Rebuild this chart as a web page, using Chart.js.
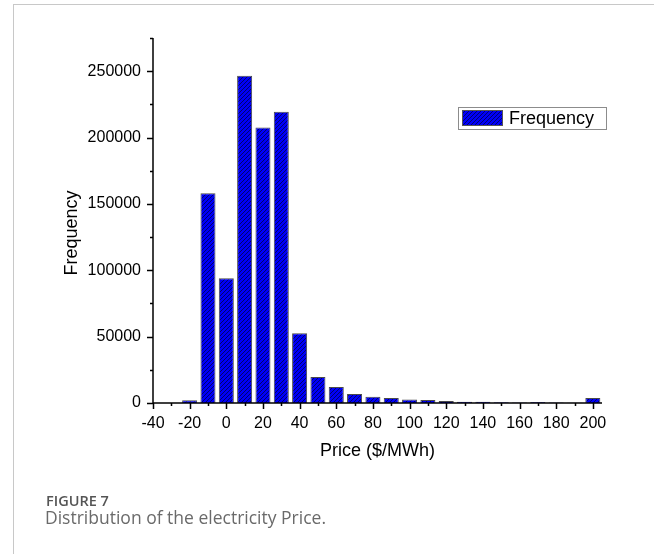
<!DOCTYPE html>
<html>
<head>
<meta charset="utf-8">
<script src="https://cdn.jsdelivr.net/npm/chart.js@4.4.1/dist/chart.umd.min.js"></script>
<style>
  html, body { margin: 0; padding: 0; background: #fff; }
  #wrap { position: relative; width: 654px; height: 554px; overflow: hidden; }
  #frame { position: absolute; left: 13px; top: 4px; width: 700px; height: 600px;
           border-left: 1px solid #c8c8c8; border-top: 1px solid #c8c8c8; }
  #chart { position: absolute; left: 0; top: 0; }
  .cap1 { position: absolute; left: 46px; top: 491px; font: 600 14.5px "Open Sans", sans-serif; color: #555; }
  .cap2 { position: absolute; left: 45px; top: 505px; font: 17.5px "Open Sans", sans-serif; color: #6a6a6a; }
</style>
</head>
<body>
<div id="wrap">
  <div id="frame"></div>
  <canvas id="chart" width="654" height="554"></canvas>
  <div class="cap1">FIGURE 7</div>
  <div class="cap2">Distribution of the electricity Price.</div>
</div>
<script>
// histogram bins (price centre, $/MWh) and counts
const binCenters = [-20, -10, 0, 10, 20, 30, 40, 50, 60, 70, 80, 90, 100,
                    110, 120, 130, 140, 150, 160, 170, 180, 190, 200];
const frequency = [2000, 158000, 94000, 246500, 207500, 219500, 52500, 19500, 12000, 6800, 4700, 3700, 2600,
                   2200, 1500, 1000, 1000, 600, 400, 700, 400, 200, 3700];
const xRange = [-40, 205];
const yRange = [0, 275000];
const xTickValues = [-40, -30, -20, -10, 0, 10, 20, 30, 40, 50, 60, 70, 80, 90, 100,
                     110, 120, 130, 140, 150, 160, 170, 180, 190, 200];
const yTickValues = [0, 25000, 50000, 75000, 100000, 125000, 150000, 175000, 200000,
                     225000, 250000, 275000];
const seriesLabel = 'Frequency';
const xTitle = 'Price ($/MWh)';
const yTitle = 'Frequency';

const FONT = '"Liberation Sans", Arial, sans-serif';

// blue fill with dark diagonal hatching, like the Origin pattern
function hatch() {
  const c = document.createElement('canvas');
  c.width = 4; c.height = 4;
  const g = c.getContext('2d');
  g.fillStyle = '#0000f8';
  g.fillRect(0, 0, 4, 4);
  g.strokeStyle = '#000070';
  g.lineWidth = 1;
  g.beginPath();
  g.moveTo(0, 4); g.lineTo(4, 0);
  g.moveTo(-1, 1); g.lineTo(1, -1);
  g.moveTo(3, 5); g.lineTo(5, 3);
  g.stroke();
  return g.createPattern(c, 'repeat');
}
const fill = hatch();

// axes, ticks, y title and legend box
const decor = {
  id: 'decor',
  afterDraw(chart) {
    const ctx = chart.ctx;
    const xs = chart.scales.x, ys = chart.scales.y;
    const a = chart.chartArea;
    ctx.save();
    ctx.strokeStyle = '#000';
    ctx.lineWidth = 1.5;
    ctx.beginPath();
    ctx.moveTo(a.left, a.top); ctx.lineTo(a.left, a.bottom);
    ctx.moveTo(a.left, a.bottom); ctx.lineTo(a.right, a.bottom);
    ys.ticks.forEach(t => {
      const p = Math.round(ys.getPixelForValue(t.value)) + 0.5;
      const len = t.value % 50000 === 0 ? 6 : 3;
      ctx.moveTo(a.left - len, p); ctx.lineTo(a.left, p);
    });
    xs.ticks.forEach(t => {
      const p = Math.round(xs.getPixelForValue(t.value)) + 0.5;
      const len = t.value % 20 === 0 ? 6 : 3;
      ctx.moveTo(p, a.bottom); ctx.lineTo(p, a.bottom + len);
    });
    ctx.stroke();

    // y title
    ctx.fillStyle = '#000';
    ctx.font = '18px ' + FONT;
    ctx.textAlign = 'center';
    ctx.textBaseline = 'middle';
    ctx.translate(72, 233);
    ctx.rotate(-Math.PI / 2);
    ctx.fillText(yTitle, 0, 0);
    ctx.restore();

    // legend
    ctx.save();
    ctx.strokeStyle = '#8c8c8c';
    ctx.lineWidth = 1;
    ctx.strokeRect(458.5, 107.5, 148, 22);
    ctx.fillStyle = fill;
    ctx.fillRect(462, 110, 41, 16);
    ctx.strokeStyle = '#555';
    ctx.strokeRect(462.5, 110.5, 40, 15);
    ctx.fillStyle = '#000';
    ctx.font = '18px ' + FONT;
    ctx.textAlign = 'left';
    ctx.textBaseline = 'middle';
    ctx.fillText(chart.data.datasets[0].label, 509, 119);
    ctx.restore();
  }
};

new Chart(document.getElementById('chart'), {
  type: 'bar',
  data: {
    datasets: [{
      label: seriesLabel,
      data: binCenters.map((x, i) => ({ x: x, y: frequency[i] })),
      backgroundColor: fill,
      borderColor: '#4a4a4a',
      borderWidth: 1,
      categoryPercentage: 1,
      barPercentage: 0.82
    }]
  },
  options: {
    responsive: false,
    animation: false,
    layout: { padding: { left: 62, top: 38, right: 52, bottom: 92 } },
    plugins: { legend: { display: false }, tooltip: { enabled: false } },
    scales: {
      x: {
        type: 'linear',
        offset: false,
        min: xRange[0], max: xRange[1],
        grid: { display: false, offset: false },
        border: { display: false },
        afterBuildTicks: s => { s.ticks = xTickValues.map(v => ({ value: v })); },
        ticks: {
          padding: 3,
          color: '#000',
          font: { family: FONT, size: 16 },
          maxRotation: 0,
          autoSkip: false,
          callback: v => (v % 20 === 0 ? String(v) : '')
        },
        title: { display: true, text: xTitle, color: '#000',
                 font: { family: FONT, size: 18 }, padding: 0 },
        afterFit: s => { s.height = 59; }
      },
      y: {
        min: yRange[0], max: yRange[1],
        grid: { display: false },
        border: { display: false },
        afterBuildTicks: s => { s.ticks = yTickValues.map(v => ({ value: v })); },
        ticks: {
          padding: 4,
          color: '#000',
          font: { family: FONT, size: 16 },
          autoSkip: false,
          callback: v => (v % 50000 === 0 ? String(v) : '')
        },
        afterFit: s => { s.width = 91; }
      }
    }
  },
  plugins: [decor]
});
</script>
</body>
</html>
